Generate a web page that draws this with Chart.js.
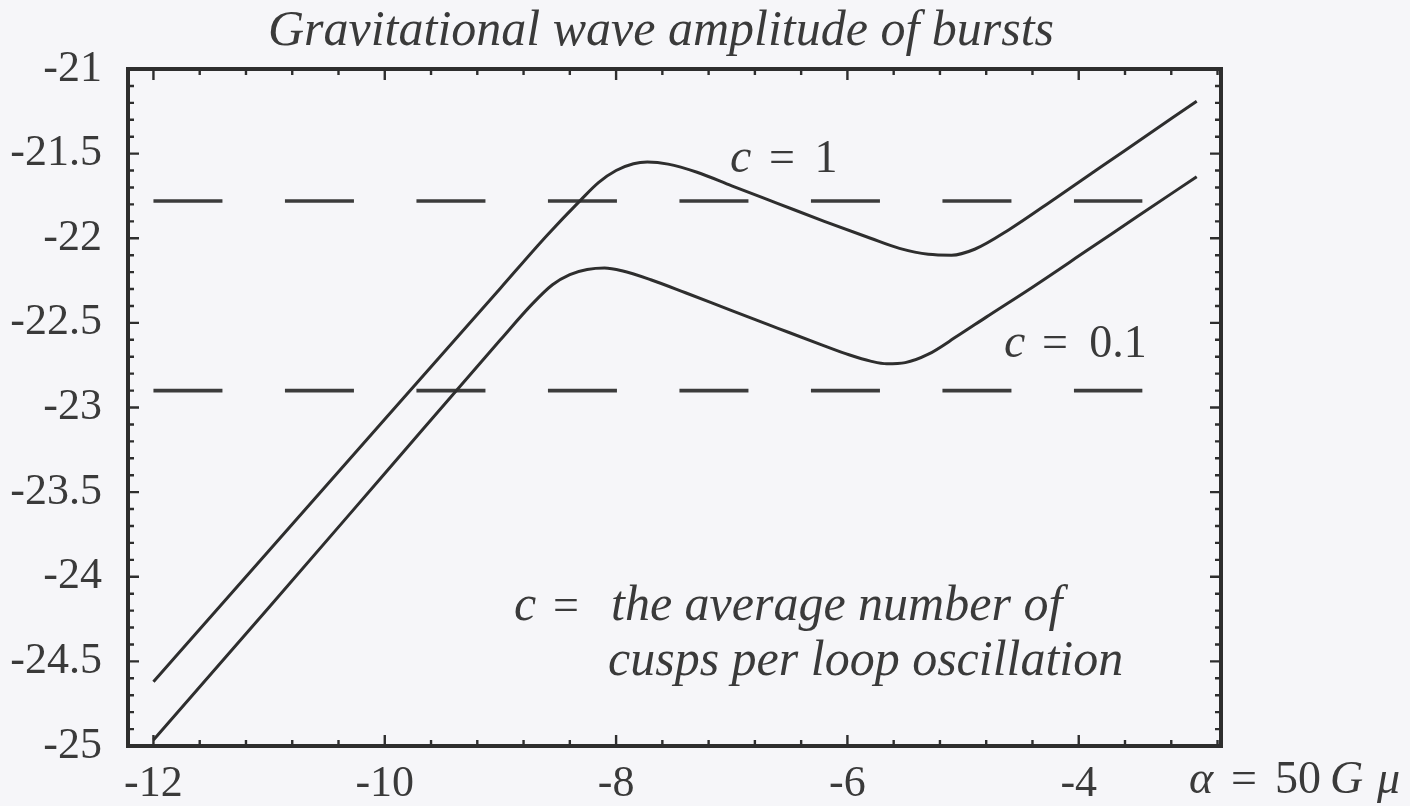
<!DOCTYPE html>
<html>
<head>
<meta charset="utf-8">
<title>Gravitational wave amplitude of bursts</title>
<script src="https://cdn.jsdelivr.net/npm/chart.js@4/dist/chart.umd.min.js"></script>
<style>
  html, body { margin: 0; padding: 0; background: #f6f6f9; }
</style>
</head>
<body>
<canvas id="burst-chart" width="1410" height="806"></canvas>
<script>
// log10 of the burst amplitude against log10(alpha), for two cusp numbers
const c1X = [-12, -11, -10, -9, -8.6, -8.3, -8.15, -8.0, -7.85, -7.73, -7.55, -7.3, -7.0, -6.6, -6.2, -5.8, -5.55, -5.3, -5.1, -4.9, -4.6, -4.2, -3.6, -2.98];
const c1Y = [-24.62, -23.845, -23.07, -22.295, -21.985, -21.77, -21.67, -21.6, -21.56, -21.55, -21.562, -21.61, -21.69, -21.795, -21.9, -22.0, -22.06, -22.095, -22.1, -22.065, -21.948, -21.763, -21.481, -21.19];

const c01X = [-12, -11, -10, -9, -8.72, -8.55, -8.4, -8.25, -8.1, -7.95, -7.7, -7.4, -7.0, -6.6, -6.24, -5.98, -5.8, -5.66, -5.5, -5.3, -5.05, -4.8, -4.4, -3.93, -3.5, -2.98];
const c01Y = [-24.965, -24.18, -23.39, -22.6, -22.385, -22.275, -22.215, -22.185, -22.176, -22.192, -22.245, -22.322, -22.428, -22.532, -22.625, -22.69, -22.726, -22.742, -22.735, -22.685, -22.578, -22.466, -22.289, -22.073, -21.875, -21.636];

// dashed sensitivity levels
const levelY = [-21.78, -22.9];
const levelX = [-12, -3.45];

const xTicks = [-12, -10, -8, -6, -4];
const xTickLabels = ['-12', '-10', '-8', '-6', '-4'];
const yTicks = [-25, -24.5, -24, -23.5, -23, -22.5, -22, -21.5, -21];
const yTickLabels = ['-25', '-24.5', '-24', '-23.5', '-23', '-22.5', '-22', '-21.5', '-21'];

const ink = '#2e2e2e';
const textInk = '#3a3a3a';
const serif = '"Liberation Serif", "Times New Roman", serif';

function toPoints(xs, ys) {
    return xs.map((x, i) => ({ x: x, y: ys[i] }));
}

const curveStyle = {
    borderColor: ink,
    borderWidth: 3,
    pointRadius: 0,
    fill: false,
    cubicInterpolationMode: 'monotone'
};

const datasets = [
    Object.assign({ label: 'c = 1', data: toPoints(c1X, c1Y) }, curveStyle),
    Object.assign({ label: 'c = 0.1', data: toPoints(c01X, c01Y) }, curveStyle)
];
levelY.forEach(level => {
    datasets.push({
        label: 'level ' + level,
        data: toPoints(levelX, [level, level]),
        borderColor: '#3c3c3c',
        borderWidth: 3.6,
        borderDash: [69, 62.5],
        borderCapStyle: 'butt',
        pointRadius: 0,
        fill: false
    });
});

// frame with inward ticks on every side, like a framed plot
const framePlugin = {
    id: 'frame',
    afterDatasetsDraw(chart) {
        const { ctx, chartArea: a, scales: { x, y } } = chart;
        ctx.save();
        ctx.strokeStyle = ink;
        ctx.lineWidth = 2.4;
        ctx.beginPath();
        for (let k = 0; ; k++) {
            const v = -12 + k * 0.4;
            if (v > x.max + 1e-9) break;
            const px = x.getPixelForValue(v);
            const len = (k % 5 === 0) ? 11 : 6;
            ctx.moveTo(px, a.bottom); ctx.lineTo(px, a.bottom - len);
            ctx.moveTo(px, a.top); ctx.lineTo(px, a.top + len);
        }
        for (let k = 0; k <= 40; k++) {
            const v = -25 + k * 0.1;
            const py = y.getPixelForValue(v);
            const len = (k % 5 === 0) ? 11 : 6;
            ctx.moveTo(a.left, py); ctx.lineTo(a.left + len, py);
            ctx.moveTo(a.right, py); ctx.lineTo(a.right - len, py);
        }
        ctx.stroke();
        ctx.lineWidth = 4;
        ctx.strokeRect(a.left, a.top, a.right - a.left, a.bottom - a.top);
        ctx.restore();
    }
};

function put(ctx, text, x, y, size, italic, align) {
    ctx.font = (italic ? 'italic ' : '') + size + 'px ' + serif;
    ctx.textAlign = align || 'left';
    ctx.fillText(text, x, y);
}

// title, curve labels, note and axis label
const textPlugin = {
    id: 'notes',
    afterDraw(chart) {
        const ctx = chart.ctx;
        ctx.save();
        ctx.fillStyle = textInk;
        ctx.textBaseline = 'alphabetic';

        put(ctx, 'Gravitational wave amplitude of bursts', 661, 45, 50, true, 'center');

        put(ctx, 'c', 730, 172, 48, true);
        put(ctx, '=', 782, 172, 46, false, 'center');
        put(ctx, '1', 826, 172, 46, false, 'center');

        put(ctx, 'c', 1004, 357, 48, true);
        put(ctx, '=', 1055, 357, 46, false, 'center');
        put(ctx, '0.1', 1118, 357, 46, false, 'center');

        put(ctx, 'c', 514, 620, 50, true);
        put(ctx, '=', 566, 620, 46, false, 'center');
        put(ctx, 'the average number of', 611, 620, 50, true);
        put(ctx, 'cusps per loop oscillation', 608, 675, 50, true);

        put(ctx, 'α', 1189, 793, 46, true);
        put(ctx, '=', 1244, 793, 46, false, 'center');
        put(ctx, '50', 1298, 793, 46, false, 'center');
        put(ctx, 'G', 1330, 793, 46, true);
        put(ctx, 'μ', 1377, 793, 46, true);
        ctx.restore();
    }
};

new Chart(document.getElementById('burst-chart').getContext('2d'), {
    type: 'line',
    data: { datasets: datasets },
    options: {
        responsive: false,
        animation: false,
        layout: { padding: { top: 69, right: 189, left: 0, bottom: 0 } },
        plugins: {
            legend: { display: false },
            tooltip: { enabled: false }
        },
        scales: {
            x: {
                type: 'linear',
                min: -12.22,
                max: -2.77,
                grid: { display: false },
                border: { display: false },
                afterFit: s => { s.height = 60; },
                afterBuildTicks: s => { s.ticks = xTicks.map(v => ({ value: v })); },
                ticks: {
                    autoSkip: false,
                    maxRotation: 0,
                    padding: 4,
                    color: textInk,
                    font: { family: serif, size: 44 },
                    callback: (v) => xTickLabels[xTicks.indexOf(v)]
                }
            },
            y: {
                type: 'linear',
                min: -25,
                max: -21,
                grid: { display: false },
                border: { display: false },
                afterFit: s => { s.width = 128; },
                afterBuildTicks: s => { s.ticks = yTicks.map(v => ({ value: v })); },
                ticks: {
                    autoSkip: false,
                    padding: 18,
                    color: textInk,
                    font: { family: serif, size: 44 },
                    callback: (v) => yTickLabels[yTicks.indexOf(v)]
                }
            }
        }
    },
    plugins: [framePlugin, textPlugin]
});
</script>
</body>
</html>
